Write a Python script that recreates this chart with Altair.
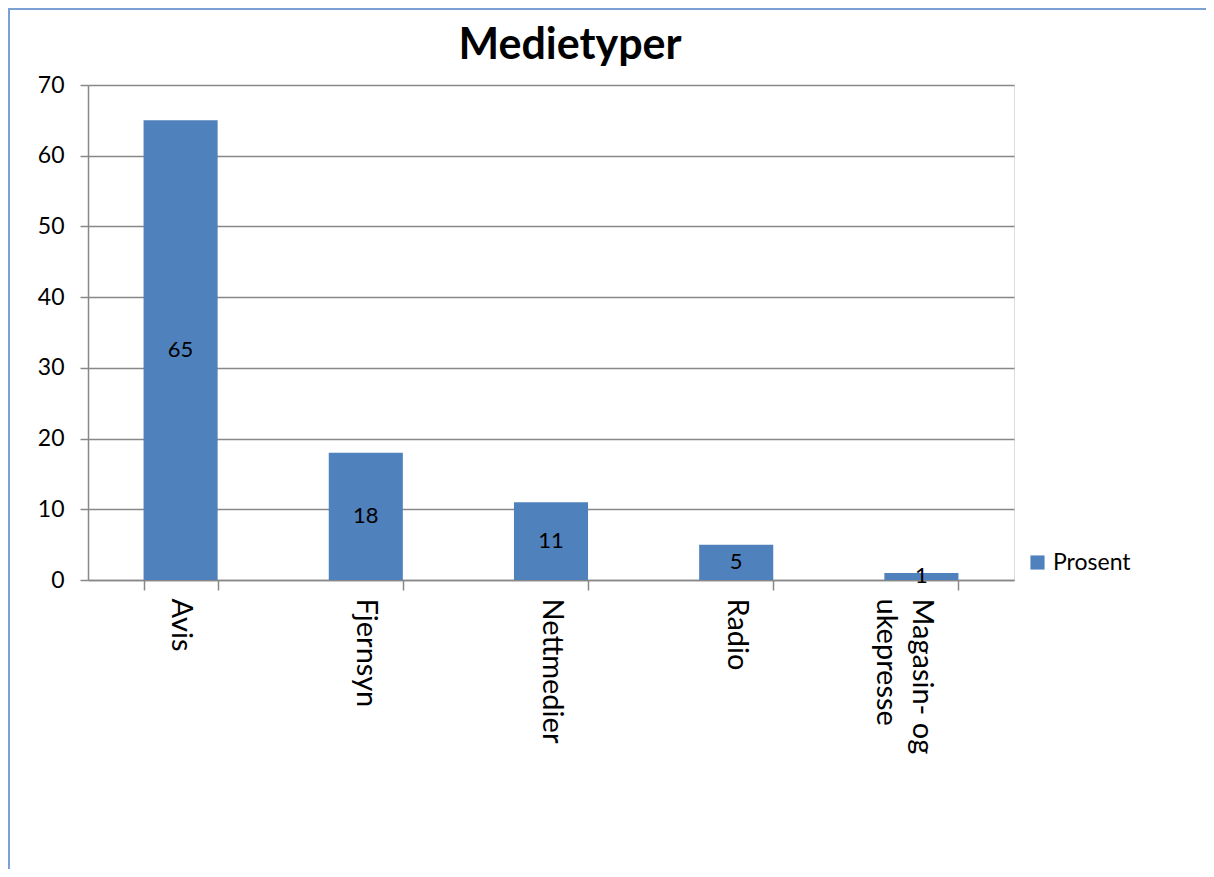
import altair as alt
import pandas as pd

categories = ["Avis", "Fjernsyn", "Nettmedier", "Radio", "Magasin- og\nukepresse"]
values = [65, 18, 11, 5, 1]
series_name = "Prosent"

df = pd.DataFrame({"kategori": categories, "verdi": values, "serie": [series_name] * len(values)})

FONT = "Lato"
W, H = 926, 495

x_enc = alt.X(
    "kategori:N",
    sort=categories,
    title=None,
    scale=alt.Scale(paddingInner=0.6, paddingOuter=0.3),
    axis=alt.Axis(
        labelAngle=90,
        labelAlign="left",
        labelBaseline="middle",
        labelFontSize=29,
        labelFont=FONT,
        labelColor="#000000",
        labelPadding=8,
        labelExpr="split(datum.label, '\\n')",
        labelLineHeight=36,
        tickBand="extent",
        tickSize=10,
        tickColor="#888888",
        domainColor="#888888",
        tickWidth=1.5,
        domainWidth=1.5,
        grid=False,
    ),
)

bars = alt.Chart(df).mark_bar(color="#4F81BD").encode(
    x=x_enc,
    y=alt.Y(
        "verdi:Q",
        title=None,
        scale=alt.Scale(domain=[0, 70], nice=False),
        axis=alt.Axis(
            values=[0, 10, 20, 30, 40, 50, 60, 70],
            labelFontSize=23,
            labelFont=FONT,
            labelColor="#000000",
            labelPadding=16,
            tickSize=8,
            tickColor="#888888",
            tickWidth=1.5,
            domainColor="#888888",
            domainWidth=1.5,
            gridColor="#888888",
            gridWidth=1.5,
        ),
    ),
    color=alt.Color(
        "serie:N",
        scale=alt.Scale(range=["#4F81BD"]),
        legend=alt.Legend(
            title=None,
            orient="none",
            legendX=938,
            legendY=466,
            symbolType="square",
            symbolSize=200,
            symbolStrokeWidth=0,
            labelFontSize=23,
            labelFont=FONT,
            labelColor="#000000",
        ),
    ),
)

labels = alt.Chart(df).transform_calculate(mid="datum.verdi / 2").mark_text(
    fontSize=22, font=FONT, color="#000000", baseline="middle", align="center"
).encode(
    x=alt.X("kategori:N", sort=categories),
    y=alt.Y("mid:Q"),
    text=alt.Text("verdi:Q"),
)

frame = alt.Chart(df).mark_rect(
    fill=None, stroke="#7BA0D4", strokeWidth=2
).encode(
    x=alt.value(-79), x2=alt.value(1300), y=alt.value(-76), y2=alt.value(900)
)

chart = alt.layer(frame, bars, labels).properties(
    width=W,
    height=H,
    title=alt.TitleParams(
        "Medietyper", font=FONT, fontSize=43, fontWeight="bold", color="#000000",
        anchor="middle", dx=19, offset=-60,
    ),
    autosize=alt.AutoSizeParams(type="none"),
    padding={"left": 80, "top": 77, "right": 192, "bottom": 289},
).configure_view(stroke=None).configure(background="white")

chart.save("out.html", embed_options={"renderer": "svg", "actions": False})
